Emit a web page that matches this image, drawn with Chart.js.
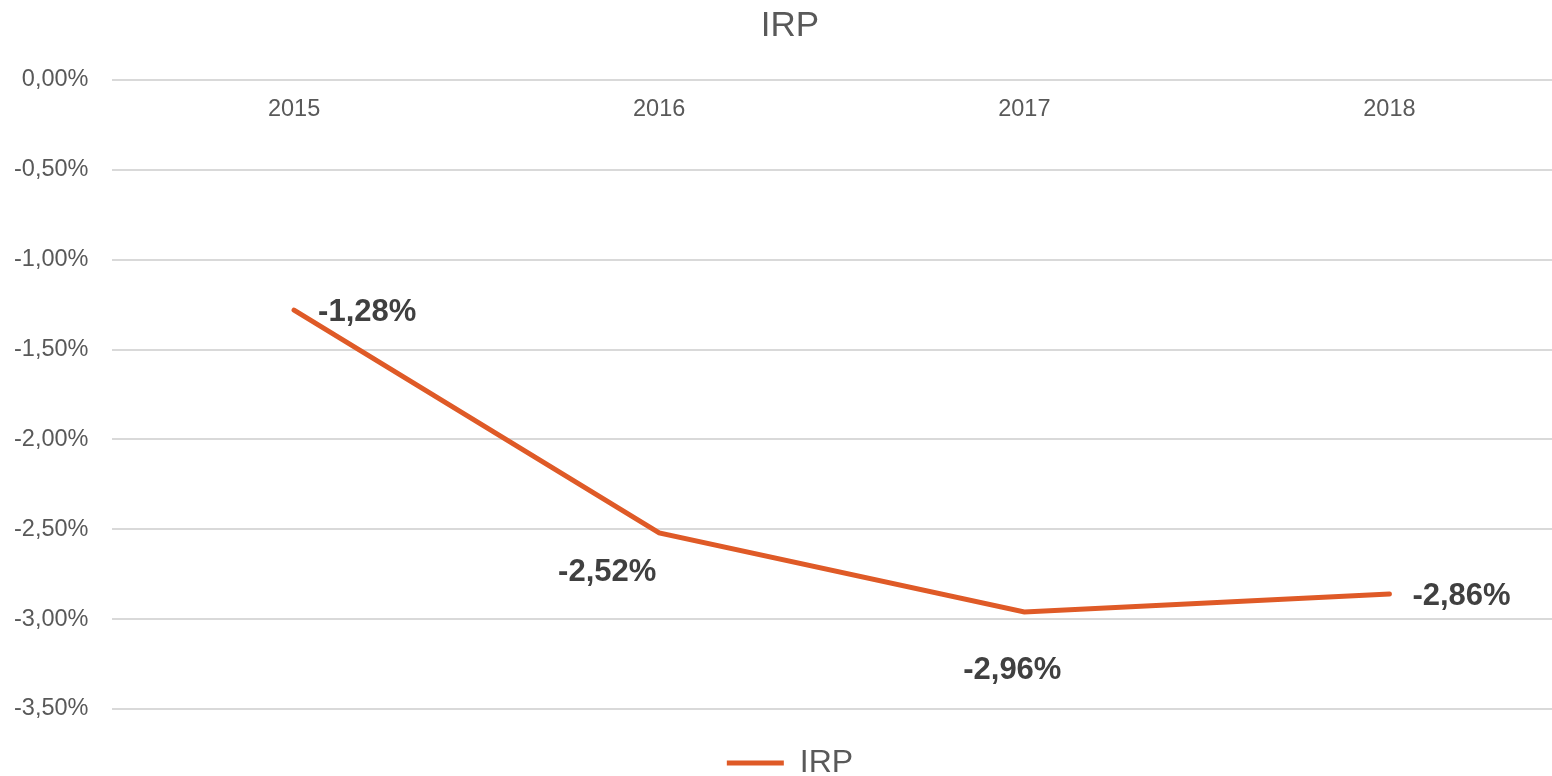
<!DOCTYPE html>
<html>
<head>
<meta charset="utf-8">
<script src="https://cdn.jsdelivr.net/npm/chart.js@4.4.1/dist/chart.umd.min.js"></script>
<style>
  html, body { margin: 0; padding: 0; background: #fff; overflow: hidden; }
  #wrap { position: relative; width: 1580px; height: 789px; }
</style>
</head>
<body>
<div id="wrap"><canvas id="irpChart"></canvas></div>
<script>
// データ
const years = ["2015", "2016", "2017", "2018"];
const irpValues = [-1.28, -2.52, -2.96, -2.86];
const seriesName = "IRP";

// ラベルの位置（点からのずれ）
const labelOffsets = [
  { dx: 24, dy: 2, align: "left" },
  { dx: -52, dy: 40, align: "center" },
  { dx: -12, dy: 58, align: "center" },
  { dx: 23, dy: 2, align: "left" },
];

const fontFamily = '"Liberation Sans", Arial, sans-serif';
const lineColor = "#DF5A27";

function fmtPct(v) {
  return v.toFixed(2).replace(".", ",") + "%";
}

// データラベルを描くプラグイン
const dataLabelPlugin = {
  id: "dataLabels",
  afterDatasetsDraw(chart) {
    const ctx = chart.ctx;
    const meta = chart.getDatasetMeta(0);
    ctx.save();
    ctx.font = "bold 31px " + fontFamily;
    ctx.fillStyle = "#404040";
    ctx.textBaseline = "middle";
    meta.data.forEach((pt, i) => {
      const off = labelOffsets[i];
      ctx.textAlign = off.align;
      ctx.fillText(fmtPct(irpValues[i]), pt.x + off.dx, pt.y + off.dy);
    });
    ctx.restore();
  },
};

const irpChartConfig = {
  type: "line",
  data: {
    labels: years,
    datasets: [
      {
        label: seriesName,
        data: irpValues,
        borderColor: lineColor,
        backgroundColor: lineColor,
        borderWidth: 5,
        borderCapStyle: "round",
        pointRadius: 0,
        pointHoverRadius: 0,
        tension: 0,
      },
    ],
  },
  options: {
    responsive: true,
    maintainAspectRatio: false,
    animation: false,
    layout: {
      padding: { left: 8, right: 8, top: 0, bottom: 0 },
    },
    plugins: {
      title: {
        display: true,
        text: seriesName,
        color: "#595959",
        font: { family: fontFamily, size: 35, weight: "normal" },
        padding: { top: 5, bottom: 33 },
      },
      legend: {
        display: true,
        position: "bottom",
        labels: {
          usePointStyle: true,
          pointStyle: "line",
          pointStyleWidth: 57,
          color: "#595959",
          font: { family: fontFamily, size: 32 },
          padding: 38,
        },
      },
      tooltip: { enabled: false },
    },
    scales: {
      x: {
        position: { y: 0 },
        offset: true,
        grid: { display: false, drawTicks: false, offset: true },
        border: { display: false },
        ticks: {
          color: "#595959",
          font: { family: fontFamily, size: 23.5 },
          padding: 15,
        },
      },
      y: {
        min: -3.5,
        max: 0,
        grid: { color: "#d9d9d9", lineWidth: 2, drawTicks: false },
        border: { display: false },
        ticks: {
          stepSize: 0.5,
          color: "#595959",
          font: { family: fontFamily, size: 23.5 },
          padding: 23,
          callback: function (value) {
            return fmtPct(value);
          },
        },
        afterFit: function (scale) {
          scale.width = 103.5;
        },
      },
    },
  },
  plugins: [dataLabelPlugin],
};

const irpChart = new Chart(document.getElementById("irpChart"), irpChartConfig);
</script>
</body>
</html>
